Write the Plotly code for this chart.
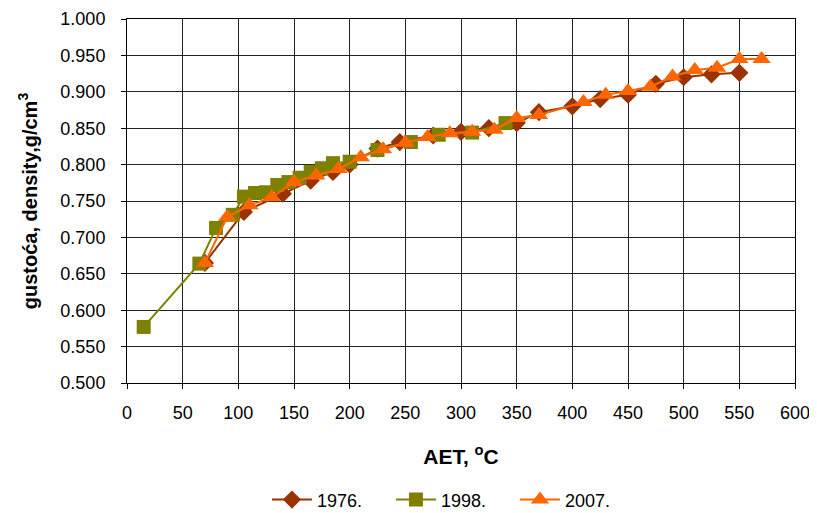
import plotly.graph_objects as go

x1976 = [70, 105, 140, 165, 185, 200, 225, 245, 275, 300, 325, 350, 370, 400, 425, 450, 475, 500, 525, 550]
y1976 = [0.665, 0.735, 0.760, 0.778, 0.790, 0.800, 0.822, 0.831, 0.840, 0.845, 0.850, 0.857, 0.872, 0.880, 0.890, 0.896, 0.911, 0.920, 0.924, 0.926]

x1998 = [15, 65, 80, 95, 105, 115, 125, 135, 145, 155, 165, 175, 185, 200, 225, 255, 280, 310, 340]
y1998 = [0.577, 0.664, 0.713, 0.731, 0.756, 0.761, 0.762, 0.772, 0.776, 0.782, 0.790, 0.795, 0.802, 0.804, 0.820, 0.831, 0.841, 0.844, 0.857]

x2007 = [70, 90, 110, 130, 150, 170, 190, 210, 230, 250, 270, 290, 310, 330, 350, 370, 410, 430, 450, 470, 490, 510, 530, 550, 570]
y2007 = [0.665, 0.728, 0.744, 0.755, 0.776, 0.785, 0.794, 0.810, 0.821, 0.830, 0.838, 0.843, 0.845, 0.848, 0.864, 0.868, 0.886, 0.896, 0.901, 0.907, 0.921, 0.930, 0.933, 0.945, 0.945]

x_ticks = list(range(0, 601, 50))
y_ticks = [0.5 + 0.05 * i for i in range(11)]

font = "Liberation Sans, Arial, sans-serif"

fig = go.Figure()
fig.add_trace(go.Scatter(x=x1976, y=y1976, name="1976.", mode="lines+markers",
                         line=dict(color="#993300", width=2),
                         marker=dict(symbol="diamond", size=14, color="#993300")))
fig.add_trace(go.Scatter(x=x1998, y=y1998, name="1998.", mode="lines+markers",
                         line=dict(color="#808000", width=2),
                         marker=dict(symbol="square", size=14, color="#808000")))
fig.add_trace(go.Scatter(x=x2007, y=y2007, name="2007.", mode="lines+markers",
                         line=dict(color="#FF6600", width=2),
                         marker=dict(symbol="triangle-up", size=16, color="#FF6600")))

fig.update_layout(
    width=809, height=505,
    margin=dict(l=119, r=22, t=11, b=130, autoexpand=False),
    paper_bgcolor="white", plot_bgcolor="white",
    font=dict(family=font, size=18, color="black"),
    showlegend=True,
    legend=dict(orientation="h", xref="container", yref="container",
                x=0.55, xanchor="center", y=0.026, yanchor="middle",
                font=dict(size=18), itemwidth=40, tracegroupgap=0,
                entrywidth=69, entrywidthmode="pixels"),
)
fig.update_xaxes(range=[0, 600], tickvals=x_ticks, ticks="outside", ticklen=5, tickcolor="black",
                 ticklabelstandoff=8,
                 showline=True, linecolor="black", linewidth=1, mirror=True,
                 showgrid=True, gridcolor="#222", gridwidth=1, zeroline=False,
                 title=dict(text="<b>AET, <sup>o</sup>C</b>", font=dict(size=21), standoff=27))
fig.update_yaxes(range=[0.5, 1.0], tickvals=y_ticks, tickformat=".3f", ticks="outside", ticklen=5,
                 tickcolor="black", ticklabelstandoff=12,
                 showline=True, linecolor="black", linewidth=1, mirror=True,
                 showgrid=True, gridcolor="#222", gridwidth=1, zeroline=False,
                 title=dict(text="<b>gustoća, density,g/cm<sup>3</sup></b>", font=dict(size=20), standoff=17))

fig.write_html("out.html")
